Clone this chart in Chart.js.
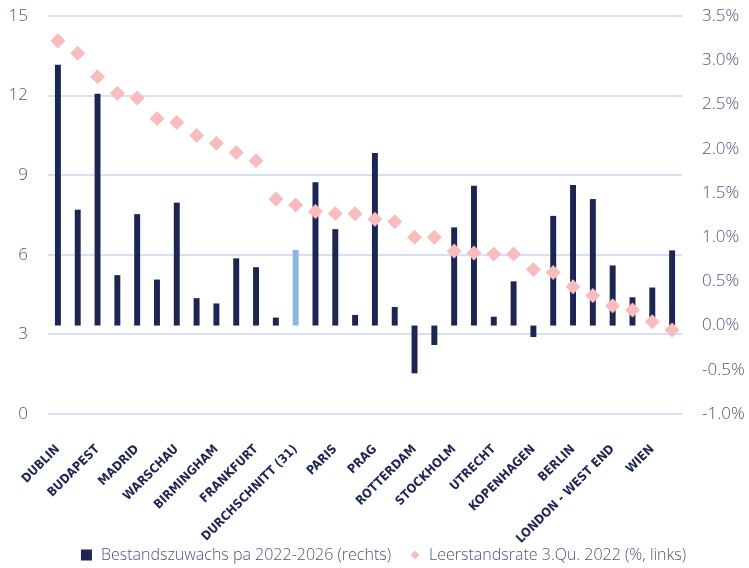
<!DOCTYPE html>
<html>
<head>
<meta charset="utf-8">
<script src="https://cdn.jsdelivr.net/npm/chart.js@4.4.0/dist/chart.umd.min.js"></script>
<style>
    html, body { margin: 0; padding: 0; background: #fff; }
    #wrap { width: 749px; height: 568px; position: relative; }
</style>
</head>
<body>
<div id="wrap"><canvas id="myChart"></canvas></div>
<script>
// categories (only every second city is labelled in the original)
const cities = ['DUBLIN', '', 'BUDAPEST', '', 'MADRID', '', 'WARSCHAU', '', 'BIRMINGHAM', '',
    'FRANKFURT', '', 'DURCHSCHNITT (31)', '', 'PARIS', '', 'PRAG', '', 'ROTTERDAM', '',
    'STOCKHOLM', '', 'UTRECHT', '', 'KOPENHAGEN', '', 'BERLIN', '', 'LONDON - WEST END', '', 'WIEN', ''];

// Bestandszuwachs pa 2022-2026 in % (right axis)
const growth = [2.95, 1.31, 2.62, 0.57, 1.26, 0.52, 1.39, 0.31, 0.25, 0.76,
    0.66, 0.09, 0.855, 1.62, 1.09, 0.12, 1.95, 0.21, -0.54, -0.22,
    1.11, 1.58, 0.10, 0.50, -0.13, 1.24, 1.59, 1.43, 0.68, 0.32, 0.43, 0.85];

// Leerstandsrate 3.Qu. 2022 in % (left axis)
const vacancy = [14.07, 13.6, 12.71, 12.09, 11.91, 11.14, 10.99, 10.50, 10.20, 9.86,
    9.54, 8.10, 7.88, 7.63, 7.56, 7.55, 7.34, 7.25, 6.66, 6.66,
    6.14, 6.07, 6.03, 6.03, 5.45, 5.33, 4.80, 4.47, 4.08, 3.92, 3.48, 3.17];

const leftTicks = [0, 3, 6, 9, 12, 15];
const rightTicks = [-1.0, -0.5, 0.0, 0.5, 1.0, 1.5, 2.0, 2.5, 3.0, 3.5];

const navy = '#1c2652';
const lightBlue = '#8db5e2';
const pink = '#f8bcbc';
const tickColor = '#4f5575';
const gridColor = '#d9def2';
const avgIndex = cities.indexOf('DURCHSCHNITT (31)');

const barColors = growth.map((v, i) => i === avgIndex ? lightBlue : navy);

// legend symbols: wide transparent canvases with the mark at the right end,
// so the two legend entries get some space between them
const legendBox = 30;

function legendSymbol(draw) {
    const c = document.createElement('canvas');
    c.width = legendBox;
    c.height = 12;
    draw(c.getContext('2d'));
    return c;
}

const squareSymbol = legendSymbol(function (g) {
    g.fillStyle = navy;
    g.fillRect(legendBox - 12, 0.5, 11, 11);
});

const diamondSymbol = legendSymbol(function (g) {
    const cx = legendBox - 6;
    g.fillStyle = pink;
    g.beginPath();
    g.moveTo(cx, 1.5);
    g.lineTo(cx + 4.5, 6);
    g.lineTo(cx, 10.5);
    g.lineTo(cx - 4.5, 6);
    g.closePath();
    g.fill();
});

const lightFont = "'Open Sans', 'Lato', sans-serif";

var ctx = document.getElementById('myChart').getContext('2d');

var myChart = new Chart(ctx, {
    data: {
        labels: cities,
        datasets: [{
            type: 'bar',
            label: 'Bestandszuwachs pa 2022-2026 (rechts)',
            data: growth,
            yAxisID: 'yRight',
            backgroundColor: barColors,
            borderWidth: 0,
            barPercentage: 0.6,
            categoryPercentage: 0.5,
            order: 1
        }, {
            type: 'line',
            label: 'Leerstandsrate 3.Qu. 2022 (%, links)',
            data: vacancy,
            yAxisID: 'yLeft',
            showLine: false,
            pointStyle: 'rectRot',
            pointRadius: 7.5,
            pointHoverRadius: 7.5,
            backgroundColor: pink,
            borderColor: pink,
            pointBorderWidth: 0,
            order: 0
        }]
    },
    options: {
        responsive: true,
        maintainAspectRatio: false,
        animation: false,
        layout: {
            padding: { left: 0, right: 0, top: 16, bottom: -5 }
        },
        scales: {
            x: {
                offset: true,
                grid: { display: false },
                border: { display: false },
                afterFit: function (axis) {
                    axis.height = 133;
                    axis.paddingLeft = 0;
                    axis.paddingRight = 0;
                },
                ticks: {
                    autoSkip: false,
                    maxRotation: 45,
                    minRotation: 45,
                    padding: 20,
                    color: navy,
                    font: { family: "'DejaVu Sans Condensed', 'Liberation Sans Narrow', sans-serif", weight: 'bold', size: 12.5 }
                }
            },
            yLeft: {
                position: 'left',
                min: 0,
                max: 15,
                afterBuildTicks: function (axis) {
                    axis.ticks = leftTicks.map(v => ({ value: v }));
                },
                afterFit: function (axis) {
                    axis.width = 48;
                    axis.paddingTop = 0;
                    axis.paddingBottom = 0;
                },
                grid: { color: gridColor, lineWidth: 2, drawTicks: false },
                border: { display: false },
                ticks: {
                    padding: 20,
                    color: tickColor,
                    font: { family: lightFont, weight: 300, size: 17 }
                }
            },
            yRight: {
                position: 'right',
                min: -1,
                max: 3.5,
                afterBuildTicks: function (axis) {
                    axis.ticks = rightTicks.map(v => ({ value: v }));
                },
                afterFit: function (axis) {
                    axis.width = 67;
                    axis.paddingTop = 0;
                    axis.paddingBottom = 0;
                },
                grid: { display: false, drawTicks: false },
                border: { display: false },
                ticks: {
                    padding: 20,
                    color: tickColor,
                    font: { family: lightFont, weight: 300, size: 17 },
                    callback: function (value) {
                        return value.toFixed(1) + '%';
                    }
                }
            }
        },
        plugins: {
            tooltip: { enabled: false },
            legend: {
                position: 'bottom',
                labels: {
                    usePointStyle: true,
                    pointStyleWidth: legendBox,
                    boxWidth: 12,
                    boxHeight: 12,
                    padding: 0,
                    color: tickColor,
                    font: { family: lightFont, weight: 300, size: 16 },
                    sort: (a, b) => a.datasetIndex - b.datasetIndex,
                    generateLabels: function (chart) {
                        const items = Chart.defaults.plugins.legend.labels.generateLabels(chart);
                        items.forEach((item) => {
                            item.pointStyle = item.datasetIndex === 0 ? squareSymbol : diamondSymbol;
                        });
                        return items;
                    }
                }
            }
        }
    }
});
</script>
</body>
</html>
